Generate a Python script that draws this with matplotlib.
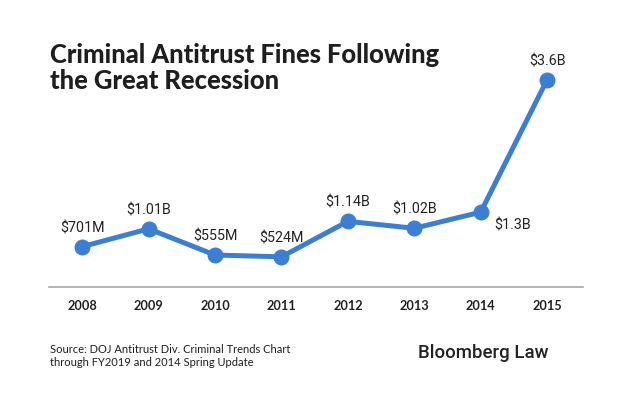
import matplotlib
matplotlib.use("Agg")
import matplotlib.pyplot as plt

years = [2008, 2009, 2010, 2011, 2012, 2013, 2014, 2015]
fines_musd = [701, 1010, 555, 524, 1140, 1020, 1300, 3600]
value_labels = ["$701M", "$1.01B", "$555M", "$524M", "$1.14B", "$1.02B", "$1.3B", "$3.6B"]
year_labels = [str(y) for y in years]

title_lines = ["Criminal Antitrust Fines Following", "the Great Recession"]
source = "Source: DOJ Antitrust Div. Criminal Trends Chart\nthrough FY2019 and 2014 Spring Update"
brand = "Bloomberg Law"

W, H = 633, 402
fig = plt.figure(figsize=(W / 100, H / 100), dpi=100)
fig.patch.set_facecolor("white")

ax_left, ax_right = 49, 583
ax_bottom, ax_top = 288, 60
ax = fig.add_axes([ax_left / W, (H - ax_bottom) / H, (ax_right - ax_left) / W, (ax_bottom - ax_top) / H])

blue = "#3b7fd4"
ax.plot(years, fines_musd, color=blue, lw=3.6, marker="o", ms=10.5, solid_capstyle="round", zorder=3, clip_on=False)

ax.set_xlim(2007.5, 2015.54)
ax.set_ylim(0, 3960)

for sp in ["top", "right", "left"]:
    ax.spines[sp].set_visible(False)
ax.spines["bottom"].set_color("#a8a8a8")
ax.spines["bottom"].set_linewidth(1.2)
ax.set_yticks([])
ax.set_xticks(years)
ax.set_xticklabels(year_labels, fontfamily="Lato", fontweight="bold", fontsize=9.2, color="#222222")
ax.tick_params(axis="x", length=0, pad=9)

for x, y, lab in zip(years, fines_musd, value_labels):
    if lab == "$1.3B":
        off = (23, -9)
    else:
        off = (0, 14)
    ax.annotate(lab, (x, y), xytext=off, textcoords="offset points", ha="center", va="center",
                fontfamily="Roboto", fontsize=10.3, color="#222222")

for i, line in enumerate(title_lines):
    fig.text(50 / W, 1 - (63 + 26 * i) / H, line, ha="left", va="baseline", fontfamily="Lato",
             fontweight="black", fontsize=18.4, color="#1e1e1e")

fig.text(50 / W, 1 - 356 / H, source, ha="left", va="center", fontfamily="Lato", fontsize=8.0,
         color="#1e1e1e", linespacing=1.3)

fig.text(418 / W, 1 - 353 / H, brand, ha="left", va="center", fontfamily="Roboto", fontweight="medium",
         fontsize=13.4, color="#222222")

fig.savefig("out.png", dpi=100, facecolor="white")
